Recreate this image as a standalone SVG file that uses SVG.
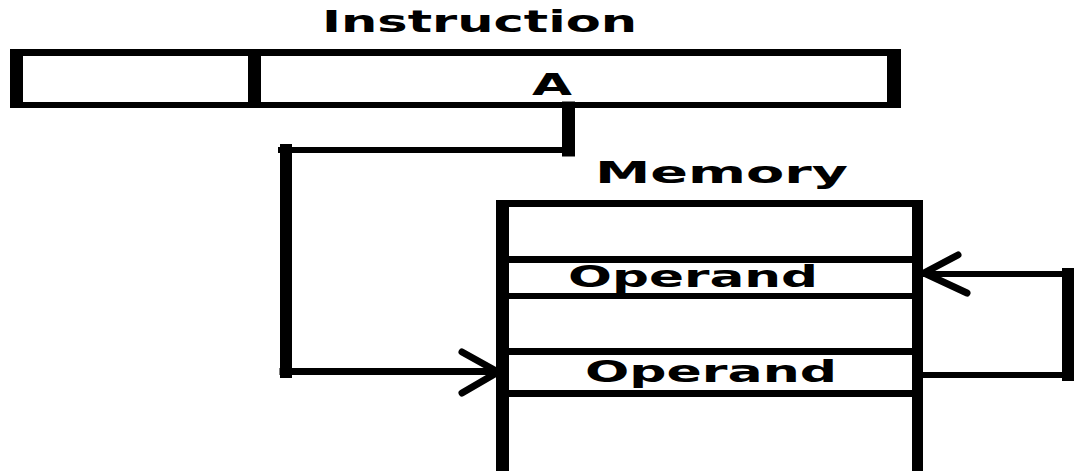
<svg xmlns="http://www.w3.org/2000/svg" width="1074" height="471" viewBox="0 0 1074 471">
  <style>
    .bg { fill: #ffffff; }
    .wall { fill: #000000; }
    .label { font-family: "DejaVu Sans", Verdana, sans-serif; font-weight: bold; font-size: 30px; fill: #000000; }
    .wire { stroke: #000000; fill: none; stroke-linecap: square; }
    .head { stroke: #000000; fill: none; stroke-width: 7; stroke-linecap: round; stroke-linejoin: miter; }
  </style>
  <rect class="bg" x="0" y="0" width="1074" height="471"/>

  <!-- Instruction word: opcode field and address field A -->
  <g id="instruction">
    <text class="label" x="322" y="32" textLength="315" lengthAdjust="spacingAndGlyphs">Instruction</text>
    <rect class="wall" x="10" y="49" width="891" height="7"/>
    <rect class="wall" x="10" y="102" width="891" height="6"/>
    <rect class="wall" x="10" y="49" width="13" height="59"/>
    <rect class="wall" x="248" y="49" width="13" height="59"/>
    <rect class="wall" x="887" y="49" width="14" height="59"/>
    <text class="label" x="532" y="95" textLength="40" lengthAdjust="spacingAndGlyphs">A</text>
  </g>

  <!-- Memory column with two operand cells -->
  <g id="memory">
    <text class="label" x="595" y="183" textLength="253" lengthAdjust="spacingAndGlyphs">Memory</text>
    <rect class="wall" x="496" y="200" width="427" height="7"/>
    <rect class="wall" x="496" y="200" width="13" height="271"/>
    <rect class="wall" x="912" y="200" width="11" height="271"/>
    <rect class="wall" x="509" y="256" width="403" height="7"/>
    <rect class="wall" x="509" y="293" width="403" height="6"/>
    <rect class="wall" x="509" y="348" width="403" height="7"/>
    <rect class="wall" x="509" y="390" width="403" height="7"/>
  </g>
  <g id="operand-1">
    <text class="label" x="568" y="287" textLength="250" lengthAdjust="spacingAndGlyphs">Operand</text>
  </g>
  <g id="operand-2">
    <text class="label" x="585" y="382" textLength="252" lengthAdjust="spacingAndGlyphs">Operand</text>
  </g>

  <!-- Connectors: A points into memory, the second operand points back to the first -->
  <g id="connectors">
    <line class="wire" x1="568.5" y1="108" x2="568.5" y2="150" stroke-width="13"/>
    <line class="wire" x1="281" y1="150" x2="572" y2="150" stroke-width="6"/>
    <line class="wire" x1="286" y1="150" x2="286" y2="372" stroke-width="12"/>
    <line class="wire" x1="283" y1="371.5" x2="496" y2="371.5" stroke-width="7"/>
    <polyline class="head" points="462,352 498,372 462,393"/>

    <line class="wire" x1="926" y1="375" x2="1071" y2="375" stroke-width="6"/>
    <line class="wire" x1="1068" y1="274" x2="1068" y2="375" stroke-width="12"/>
    <line class="wire" x1="926" y1="274" x2="1071" y2="274" stroke-width="6"/>
    <polyline class="head" points="958,255 924,273 967,293"/>
  </g>
</svg>
